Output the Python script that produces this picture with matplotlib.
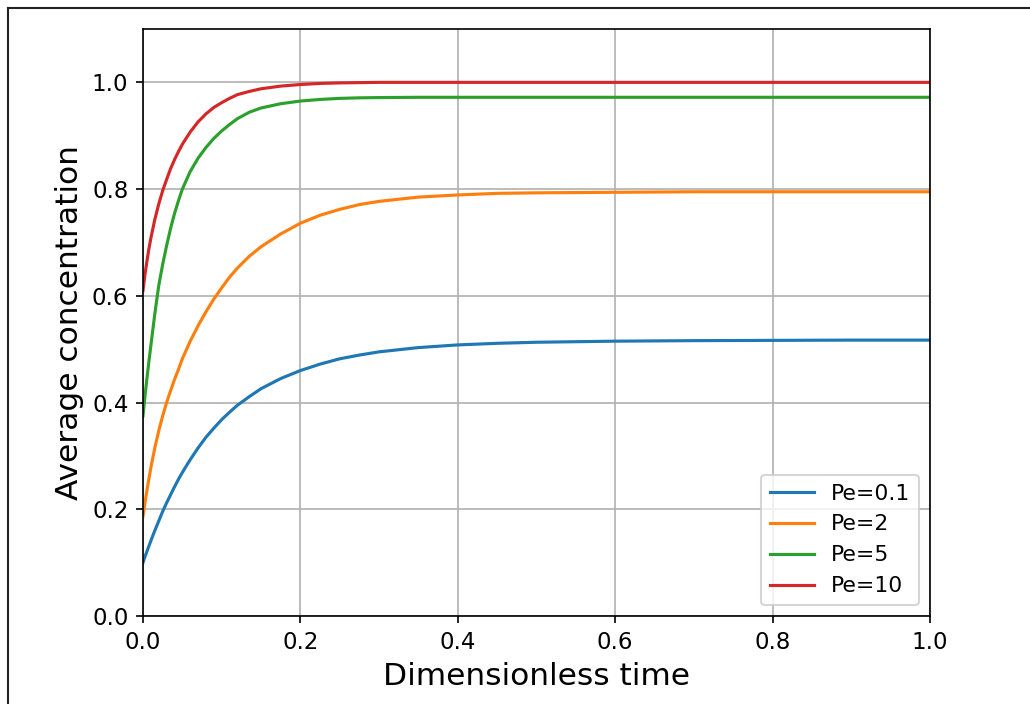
import matplotlib
matplotlib.use("Agg")
import matplotlib.pyplot as plt
from matplotlib.lines import Line2D

# dimensionless time samples
t = [0, 0.0025, 0.005, 0.0075, 0.01, 0.015, 0.02, 0.025, 0.03, 0.035,
     0.04, 0.045, 0.05, 0.06, 0.07, 0.08, 0.09, 0.1, 0.11, 0.12,
     0.135, 0.15, 0.175, 0.2, 0.225, 0.25, 0.275, 0.3, 0.35, 0.4,
     0.45, 0.5, 0.6, 0.7, 0.8, 0.9, 1.0]

pe_01 = [0.100, 0.111, 0.121, 0.131, 0.141, 0.160, 0.178, 0.196, 0.212, 0.227,
         0.242, 0.256, 0.269, 0.293, 0.315, 0.335, 0.352, 0.368, 0.382, 0.395,
         0.411, 0.426, 0.445, 0.460, 0.472, 0.482, 0.489, 0.495, 0.503, 0.508,
         0.511, 0.513, 0.515, 0.516, 0.5165, 0.517, 0.517]
pe_2 = [0.187, 0.212, 0.235, 0.257, 0.278, 0.315, 0.347, 0.375, 0.400, 0.422,
        0.443, 0.462, 0.482, 0.515, 0.544, 0.570, 0.594, 0.615, 0.635, 0.652,
        0.674, 0.692, 0.716, 0.736, 0.751, 0.762, 0.771, 0.777, 0.785, 0.789,
        0.792, 0.793, 0.794, 0.795, 0.795, 0.795, 0.795]
pe_5 = [0.375, 0.412, 0.445, 0.477, 0.507, 0.566, 0.619, 0.659, 0.694, 0.726,
        0.754, 0.778, 0.800, 0.833, 0.858, 0.878, 0.895, 0.909, 0.921, 0.932,
        0.944, 0.952, 0.960, 0.965, 0.968, 0.970, 0.971, 0.9715, 0.972, 0.972,
        0.972, 0.972, 0.972, 0.972, 0.972, 0.972, 0.972]
pe_10 = [0.610, 0.640, 0.665, 0.688, 0.708, 0.743, 0.772, 0.797, 0.818, 0.838,
         0.855, 0.870, 0.884, 0.907, 0.926, 0.941, 0.953, 0.962, 0.970, 0.977,
         0.983, 0.988, 0.993, 0.996, 0.998, 0.999, 0.9995, 1.0, 1.0, 1.0,
         1.0, 1.0, 1.0, 1.0, 1.0, 1.0, 1.0]

labels = ["Pe=0.1", "Pe=2", "Pe=5", "Pe=10"]
series = [pe_01, pe_2, pe_5, pe_10]

fig = plt.figure(figsize=(1030 / 150, 704 / 150), dpi=150)
ax = fig.add_axes([143 / 1030, 88 / 704, 787 / 1030, 587 / 704])

for y, lab in zip(series, labels):
    ax.plot(t, y, label=lab)

ax.set_xlim(0, 1)
ax.set_ylim(0, 1.1)
ax.tick_params(labelsize=11)
ax.set_xlabel("Dimensionless time", fontsize=15)
ax.set_ylabel("Average concentration", fontsize=15)
ax.grid(True)
ax.legend(loc="lower right", fontsize=10.5)

# frame line visible along left and top edges of the image
fig.add_artist(Line2D([7.5 / 1030, 7.5 / 1030], [0, 1 - 7.5 / 704],
                      transform=fig.transFigure, color="#222222", lw=1.0))
fig.add_artist(Line2D([7.5 / 1030, 1], [1 - 7.5 / 704, 1 - 7.5 / 704],
                      transform=fig.transFigure, color="#222222", lw=1.0))

fig.savefig("out.png", dpi=150)
